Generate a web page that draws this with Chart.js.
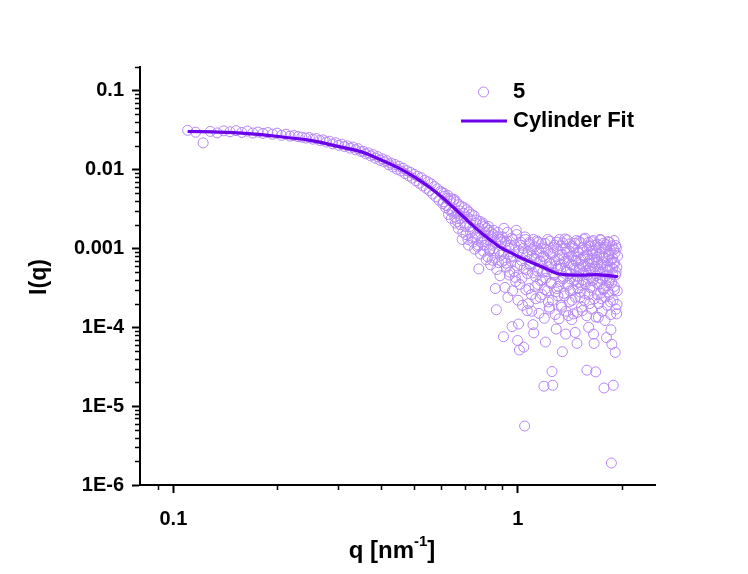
<!DOCTYPE html>
<html>
<head>
<meta charset="utf-8">
<script src="https://cdn.jsdelivr.net/npm/chart.js@4.4.1/dist/chart.umd.min.js"></script>
<style>
  html, body { margin: 0; padding: 0; background: #ffffff; }
  canvas { display: block; }
</style>
</head>
<body>
<canvas id="saxs" width="748" height="574"></canvas>
<script>
// Scattering vector q (nm^-1) of the measured curve
const qValues = [
  0.110,0.116,0.122,0.128,0.134,0.140,0.146,0.152,0.158,0.164,
  0.170,0.176,0.182,0.188,0.194,0.200,0.206,0.212,0.218,0.224,
  0.230,0.236,0.242,0.248,0.254,0.260,0.266,0.272,0.278,0.284,
  0.290,0.296,0.302,0.308,0.314,0.320,0.326,0.332,0.338,0.344,
  0.350,
  0.356,0.362,0.368,0.374,0.380,0.386,0.392,0.398,0.404,0.410,
  0.416,0.422,0.428,0.434,0.440,0.446,0.452,0.458,0.464,0.470,
  0.476,0.482,0.488,0.494,0.500,0.506,0.512,0.518,0.524,0.530,
  0.536,0.542,0.548,0.554,0.560,0.566,0.572,0.578,0.584,0.590,
  0.596,
  0.602,0.608,0.614,0.620,0.626,0.632,0.638,0.644,0.650,0.656,
  0.662,0.668,0.674,0.680,0.686,0.692,0.698,0.704,0.710,0.716,
  0.722,0.728,0.734,0.740,0.746,0.752,0.758,0.764,0.770,0.776,
  0.782,0.788,0.794,0.800,0.806,0.812,0.818,0.824,0.830,0.836,
  0.842,0.848,0.854,0.860,0.866,0.872,0.878,0.884,0.890,0.896,
  0.902,0.908,0.914,0.920,0.926,0.932,0.938,0.944,0.950,0.956,
  0.962,0.968,0.974,0.980,0.986,0.992,0.998,1.004,1.010,1.016,
  1.022,1.028,1.034,1.040,1.046,1.052,1.058,1.064,1.070,1.076,
  1.082,1.088,1.094,1.100,1.106,1.112,1.118,1.124,1.130,1.136,
  1.142,1.148,1.154,1.160,1.166,1.172,1.178,1.184,1.190,1.196,
  1.202,1.208,1.214,1.220,1.226,1.232,1.238,1.244,1.250,1.256,
  1.262,1.268,1.274,1.280,1.286,1.292,1.298,1.304,1.310,1.316,
  1.322,1.328,1.334,1.340,1.346,1.352,1.358,1.364,1.370,1.376,
  1.382,1.388,1.394,1.400,1.406,1.412,1.418,1.424,1.430,1.436,
  1.442,1.448,1.454,1.460,1.466,1.472,1.478,1.484,1.490,1.496,
  1.502,1.508,1.514,1.520,1.526,1.532,1.538,1.544,1.550,1.556,
  1.562,1.568,1.574,1.580,1.586,1.592,1.598,1.604,1.610,1.616,
  1.622,1.628,1.634,1.640,1.646,1.652,1.658,1.664,1.670,1.676,
  1.682,1.688,1.694,1.700,1.706,1.712,1.718,1.724,1.730,1.736,
  1.742,1.748,1.754,1.760,1.766,1.772,1.778,1.784,1.790,1.796,
  1.802,1.808,1.814,1.820,1.826,1.832,1.838,1.844,1.850,1.856,
  1.862,1.868,1.874,1.880,1.886,1.892,1.898,1.904,1.910,1.916,
  1.922,1.928,1.934,1.940,1.946,
  // second detector frame, offset by half a step
  0.605,0.611,0.617,0.623,0.629,0.635,0.641,0.647,0.653,0.659,
  0.665,0.671,0.677,0.683,0.689,0.695,0.701,0.707,0.713,0.719,
  0.725,0.731,0.737,0.743,0.749,0.755,0.761,0.767,0.773,0.779,
  0.785,0.791,0.797,0.803,0.809,0.815,0.821,0.827,0.833,0.839,
  0.845,0.851,0.857,0.863,0.869,0.875,0.881,0.887,0.893,0.899,
  0.905,0.911,0.917,0.923,0.929,0.935,0.941,0.947,0.953,0.959,
  0.965,0.971,0.977,0.983,0.989,0.995,1.001,1.007,1.013,1.019,
  1.025,1.031,1.037,1.043,1.049,1.055,1.061,1.067,1.073,1.079,
  1.085,1.091,1.097,1.103,1.109,1.115,1.121,1.127,1.133,1.139,
  1.145,1.151,1.157,1.163,1.169,1.175,1.181,1.187,1.193,1.199,
  1.205,1.211,1.217,1.223,1.229,1.235,1.241,1.247,1.253,1.259,
  1.265,1.271,1.277,1.283,1.289,1.295,1.301,1.307,1.313,1.319,
  1.325,1.331,1.337,1.343,1.349,1.355,1.361,1.367,1.373,1.379,
  1.385,1.391,1.397,1.403,1.409,1.415,1.421,1.427,1.433,1.439,
  1.445,1.451,1.457,1.463,1.469,1.475,1.481,1.487,1.493,1.499,
  1.505,1.511,1.517,1.523,1.529,1.535,1.541,1.547,1.553,1.559,
  1.565,1.571,1.577,1.583,1.589,1.595,1.601,1.607,1.613,1.619,
  1.625,1.631,1.637,1.643,1.649,1.655,1.661,1.667,1.673,1.679,
  1.685,1.691,1.697,1.703,1.709,1.715,1.721,1.727,1.733,1.739,
  1.745,1.751,1.757,1.763,1.769,1.775,1.781,1.787,1.793,1.799,
  1.805,1.811,1.817,1.823,1.829,1.835,1.841,1.847,1.853,1.859,
  1.865,1.871,1.877,1.883,1.889,1.895,1.901,1.907,1.913,1.919,
  1.925,1.931,1.937,1.943
];

// Measured intensity I(q) of sample 5
const iValues = [
  0.0315,0.0298,0.0218,0.0305,0.0292,0.0310,0.0302,0.0312,0.0296,0.0308,
  0.0291,0.0299,0.0288,0.0295,0.0281,0.0290,0.0272,0.0281,0.0266,0.0270,
  0.0262,0.0258,0.0251,0.0255,0.0243,0.0247,0.0234,0.0238,0.0224,0.0229,
  0.0212,0.0219,0.0203,0.0210,0.0196,0.0200,0.0187,0.0193,0.0178,0.0184,
  0.0170,
  0.0170,0.0158,0.0163,0.0149,0.0155,0.0139,0.0146,0.0131,0.0137,0.0125,
  0.0130,0.0115,0.0121,0.0108,0.0116,0.0101,0.0110,0.0096,0.0104,0.0089,
  0.0097,0.0083,0.0092,0.0078,0.0087,0.0072,0.0082,0.0067,0.0079,0.0062,
  0.0073,0.0058,0.0070,0.0054,0.0066,0.0049,0.0061,0.0045,0.0057,0.0041,
  0.0053,
  0.0051,0.0039,0.0046,0.0035,0.0047,0.0031,0.0043,0.0029,0.0041,0.0025,
  0.0039,0.0022,0.0036,0.0020,0.0034,0.0016,0.0033,0.0019,0.0031,0.0013,
  0.0029,0.0016,0.0027,0.0012,0.0026,0.0014,0.0023,0.00105,0.00055,0.0022,
  0.0012,0.0020,0.00092,0.0019,0.0011,0.0018,0.00078,0.0017,0.00098,0.0016,
  0.00071,0.0015,0.00088,0.00031,0.000167,0.0014,0.00066,0.0013,0.00082,0.0012,
  14e-4,0.76e-4,7.1e-4,12e-4,5.8e-4,16e-4,8.4e-4,4.6e-4,11e-4,6.9e-4,
  1.02e-4,13e-4,5.1e-4,9.6e-4,3.8e-4,15e-4,0.68e-4,1.1e-4,0.515e-4,6.2e-4,
  11e-4,4.2e-4,8.8e-4,0.56e-4,0.056e-4,13e-4,5.4e-4,1.63e-4,9.2e-4,3.1e-4,
  12e-4,6.0e-4,2.6e-4,8.1e-4,1.08e-4,0.85e-4,10.5e-4,4.4e-4,7.3e-4,12.5e-4,
  3.5e-4,5.6e-4,9.0e-4,2.4e-4,6.8e-4,11.5e-4,4.0e-4,7.9e-4,0.179e-4,3.0e-4,
  0.65e-4,9.8e-4,5.1e-4,13e-4,2.1e-4,1.8e-4,6.5e-4,8.6e-4,3.7e-4,0.275e-4,
  0.184e-4,10.2e-4,4.6e-4,7.0e-4,2.8e-4,0.95e-4,12e-4,5.5e-4,3.3e-4,1.28e-4,
  8.2e-4,6.1e-4,10.8e-4,1.8e-4,0.49e-4,4.1e-4,7.4e-4,2.5e-4,13.2e-4,0.82e-4,
  5.3e-4,9.1e-4,3.6e-4,1.41e-4,6.6e-4,11.4e-4,2.9e-4,4.8e-4,8.0e-4,2.2e-4,
  6.0e-4,1.48e-4,10.1e-4,3.9e-4,0.86e-4,7.1e-4,12.6e-4,0.625e-4,4.4e-4,3.1e-4,
  8.7e-4,5.7e-4,2.4e-4,11.8e-4,6.3e-4,3.4e-4,1.63e-4,9.5e-4,4.9e-4,7.7e-4,
  2.7e-4,13.5e-4,5.2e-4,3.8e-4,0.286e-4,8.3e-4,6.4e-4,1.0e-4,10.6e-4,2.0e-4,
  5.6e-4,4.3e-4,12.2e-4,7.2e-4,3.2e-4,9.3e-4,0.82e-4,0.625e-4,5.9e-4,11.0e-4,
  0.272e-4,4.5e-4,7.8e-4,2.6e-4,6.7e-4,1.34e-4,10.3e-4,3.5e-4,5.0e-4,8.9e-4,
  12.8e-4,2.3e-4,6.2e-4,4.0e-4,7.5e-4,3.0e-4,0.17e-4,9.9e-4,1.22e-4,5.4e-4,
  11.2e-4,0.74e-4,4.2e-4,6.9e-4,2.8e-4,8.5e-4,3.7e-4,12.0e-4,5.8e-4,2.1e-4,
  0.93e-4,0.019e-4,0.61e-4,7.6e-4,4.7e-4,0.184e-4,9.7e-4,3.3e-4,6.5e-4,0.48e-4,
  10.9e-4,5.0e-4,1.48e-4,1.95e-4,8.0e-4,
  // second detector frame
  0.0037,0.0050,0.0033,0.0043,0.0027,0.0040,0.0024,0.0030,0.0042,0.0021,
  0.0028,0.0018,0.0030,0.0024,0.0013,0.0028,0.0021,0.0015,0.0025,0.0011,
  0.0019,0.0023,0.00135,0.0017,0.00098,0.0021,0.0015,0.0011,0.0018,0.00085,
  0.0013,0.0021,0.0011,0.0016,0.00072,0.0013,0.0019,0.00095,0.00062,0.0014,
  0.0011,0.0017,0.00075,0.0012,0.00054,0.0016,0.00092,0.00045,0.0013,0.00068,
  9.0e-4,18e-4,3.2e-4,6.5e-4,12.5e-4,2.4e-4,10e-4,5.0e-4,7.8e-4,13.5e-4,
  2.9e-4,8.0e-4,11e-4,4.3e-4,17e-4,6.0e-4,2.2e-4,9.4e-4,3.5e-4,12e-4,
  7.0e-4,1.9e-4,10e-4,5.6e-4,14e-4,3.0e-4,8.3e-4,4.8e-4,2.0e-4,11.3e-4,
  6.4e-4,9.6e-4,1.6e-4,4.9e-4,13e-4,7.5e-4,3.3e-4,2.3e-4,8.7e-4,5.2e-4,
  12e-4,1.5e-4,6.9e-4,3.9e-4,10e-4,2.6e-4,5.0e-4,8.0e-4,1.3e-4,11.6e-4,
  4.2e-4,7.0e-4,2.9e-4,9.4e-4,5.8e-4,1.7e-4,12.4e-4,3.6e-4,6.3e-4,2.2e-4,
  8.8e-4,4.9e-4,11e-4,1.45e-4,6.0e-4,3.1e-4,9.8e-4,2.5e-4,7.2e-4,13e-4,
  3.8e-4,5.5e-4,1.9e-4,8.4e-4,11.8e-4,4.4e-4,2.7e-4,6.8e-4,10e-4,1.6e-4,
  5.0e-4,12.8e-4,3.4e-4,7.6e-4,2.1e-4,9.2e-4,4.1e-4,6.2e-4,1.25e-4,10.6e-4,
  3.0e-4,8.1e-4,5.6e-4,11.6e-4,2.4e-4,6.9e-4,4.5e-4,1.55e-4,9.0e-4,3.7e-4,
  12.3e-4,5.3e-4,2.8e-4,7.3e-4,1.8e-4,10.2e-4,4.0e-4,6.0e-4,13.1e-4,2.2e-4,
  8.0e-4,3.5e-4,5.9e-4,1.4e-4,9.6e-4,4.6e-4,11.9e-4,2.6e-4,7.0e-4,3.2e-4,
  10.8e-4,5.1e-4,1.7e-4,8.6e-4,3.9e-4,12.6e-4,6.6e-4,2.3e-4,4.8e-4,9.4e-4,
  1.35e-4,7.2e-4,3.6e-4,11.3e-4,5.5e-4,2.0e-4,8.4e-4,4.2e-4,13.0e-4,2.7e-4,
  6.3e-4,9.9e-4,1.6e-4,5.0e-4,3.1e-4,11.7e-4,7.7e-4,2.4e-4,4.4e-4,10.4e-4,
  3.4e-4,6.0e-4,1.9e-4,12.2e-4,5.3e-4,8.2e-4,2.6e-4,4.0e-4,9.5e-4,1.45e-4,
  7.1e-4,3.7e-4,10.8e-4,5.6e-4,2.2e-4,6.6e-4,12.6e-4,3.0e-4,8.8e-4,4.6e-4,
  1.7e-4,10.1e-4,5.8e-4,2.9e-4
];

// Cylinder form-factor fit
const fitQ = [0.11,0.13,0.15,0.18,0.21,0.25,0.30,0.35,0.40,0.45,0.50,0.55,0.60,0.65,0.70,
              0.75,0.80,0.85,0.90,0.95,1.00,1.10,1.20,1.30,1.40,1.50,1.60,1.70,1.80,1.90,1.95];
const fitI = [0.0304,0.0300,0.0294,0.0278,0.0257,0.0235,0.0197,0.0169,0.0133,0.0105,0.0081,0.0061,0.00452,0.0033,0.00245,
              0.00185,0.00146,0.00119,0.00100,0.00089,0.00079,0.00066,0.00056,0.00048,0.000463,0.000458,0.000462,0.000465,0.000455,0.000445,0.000438];

// Axis ticks and labels
const xTickValues = [0.1, 1];
const xTickLabels = ['0.1', '1'];
const yTickValues = [1e-6, 1e-5, 1e-4, 1e-3, 1e-2, 1e-1];
const yTickLabels = ['1E-6', '1E-5', '1E-4', '0.001', '0.01', '0.1'];
const xMinorValues = [0.09, 0.2, 0.3, 0.4, 0.5, 0.6, 0.7, 0.8, 0.9, 2];

const seriesLabel = '5';
const fitLabel = 'Cylinder Fit';
const yTitle = 'I(q)';
const xTitleParts = ['q [nm', '-1', ']'];

const FONT = "'Liberation Sans', Arial, Helvetica, sans-serif";
const POINT_COLOR = 'rgb(182,134,246)';
const LINE_COLOR = 'rgb(108,0,232)';
const AREA = { left: 140, right: 655, top: 67, bottom: 485 };

function segment(ctx, x1, y1, x2, y2) {
  ctx.beginPath();
  ctx.moveTo(x1, y1);
  ctx.lineTo(x2, y2);
  ctx.stroke();
}

// Minor ticks, axis titles and the legend block
const decorations = {
  id: 'decorations',
  afterDraw(chart) {
    const { ctx, scales: { x, y } } = chart;
    ctx.save();
    ctx.strokeStyle = '#000';
    ctx.lineWidth = 1.5;
    for (const v of xMinorValues) {
      const px = Math.round(x.getPixelForValue(v)) + 0.5;
      segment(ctx, px, x.top, px, x.top + 5);
    }
    for (let e = -6; e <= -1; e++) {
      for (let m = 2; m <= 9; m++) {
        const v = m * Math.pow(10, e);
        if (v > y.max) continue;
        const py = Math.round(y.getPixelForValue(v)) + 0.5;
        segment(ctx, y.right - 5, py, y.right, py);
      }
    }

    // axis titles
    ctx.fillStyle = '#000';
    ctx.textBaseline = 'middle';
    ctx.font = `bold 23px ${FONT}`;
    ctx.save();
    ctx.translate(40, (y.top + y.bottom) / 2 + 1);
    ctx.rotate(-Math.PI / 2);
    ctx.textAlign = 'center';
    ctx.fillText(yTitle, 0, 0);
    ctx.restore();

    const big = `bold 24px ${FONT}`;
    const small = `bold 15px ${FONT}`;
    ctx.font = big;
    const w1 = ctx.measureText(xTitleParts[0]).width;
    const w3 = ctx.measureText(xTitleParts[2]).width;
    ctx.font = small;
    const w2 = ctx.measureText(xTitleParts[1]).width;
    const total = w1 + w2 + w3;
    let cx = 392 - total / 2;
    const ty = 551;
    ctx.textAlign = 'left';
    ctx.font = big;
    ctx.fillText(xTitleParts[0], cx, ty);
    cx += w1;
    ctx.font = small;
    ctx.fillText(xTitleParts[1], cx, ty - 9);
    cx += w2;
    ctx.font = big;
    ctx.fillText(xTitleParts[2], cx, ty);

    // legend
    ctx.strokeStyle = POINT_COLOR;
    ctx.lineWidth = 1;
    ctx.beginPath();
    ctx.arc(483.5, 92, 5, 0, Math.PI * 2);
    ctx.stroke();
    ctx.strokeStyle = LINE_COLOR;
    ctx.lineWidth = 3;
    segment(ctx, 461, 121, 507, 121);
    ctx.fillStyle = '#000';
    ctx.font = `bold 22px ${FONT}`;
    ctx.textAlign = 'left';
    ctx.fillText(seriesLabel, 513, 92);
    ctx.fillText(fitLabel, 513, 121);
    ctx.restore();
  }
};

const tickFont = { family: FONT, size: 20, weight: 'bold' };

new Chart(document.getElementById('saxs'), {
  type: 'scatter',
  data: {
    datasets: [
      {
        label: fitLabel,
        data: fitQ.map((q, i) => ({ x: q, y: fitI[i] })),
        showLine: true,
        borderColor: LINE_COLOR,
        borderWidth: 3.2,
        pointRadius: 0,
        tension: 0.4,
        fill: false
      },
      {
        label: seriesLabel,
        data: qValues.map((q, i) => ({ x: q, y: iValues[i] })),
        showLine: false,
        pointStyle: 'circle',
        pointRadius: 5,
        pointBorderWidth: 1,
        borderColor: POINT_COLOR,
        backgroundColor: 'rgba(0,0,0,0)'
      }
    ]
  },
  options: {
    responsive: false,
    animation: false,
    devicePixelRatio: 1,
    layout: { padding: { left: 0, top: AREA.top, right: 748 - AREA.right, bottom: 0 } },
    plugins: { legend: { display: false }, tooltip: { enabled: false } },
    scales: {
      x: {
        type: 'logarithmic',
        min: 0.08,
        max: 2.5,
        afterBuildTicks: s => { s.ticks = xTickValues.map(v => ({ value: v, major: true })); },
        afterFit: s => { s.height = 574 - AREA.bottom; },
        ticks: {
          autoSkip: false, maxRotation: 0, padding: 14, color: '#000', font: tickFont,
          callback: (v, i) => xTickLabels[i]
        },
        grid: { drawOnChartArea: false, drawTicks: true, tickLength: 8, tickColor: '#000', tickWidth: 2 },
        border: { display: true, color: '#000', width: 2 }
      },
      y: {
        type: 'logarithmic',
        min: 1e-6,
        max: 0.2,
        afterBuildTicks: s => { s.ticks = yTickValues.map(v => ({ value: v, major: true })); },
        afterFit: s => { s.width = AREA.left; },
        ticks: {
          autoSkip: false, padding: 8, color: '#000', font: tickFont,
          callback: (v, i) => yTickLabels[i]
        },
        grid: { drawOnChartArea: false, drawTicks: true, tickLength: 8, tickColor: '#000', tickWidth: 2 },
        border: { display: true, color: '#000', width: 2 }
      }
    }
  },
  plugins: [decorations]
});
</script>
</body>
</html>
